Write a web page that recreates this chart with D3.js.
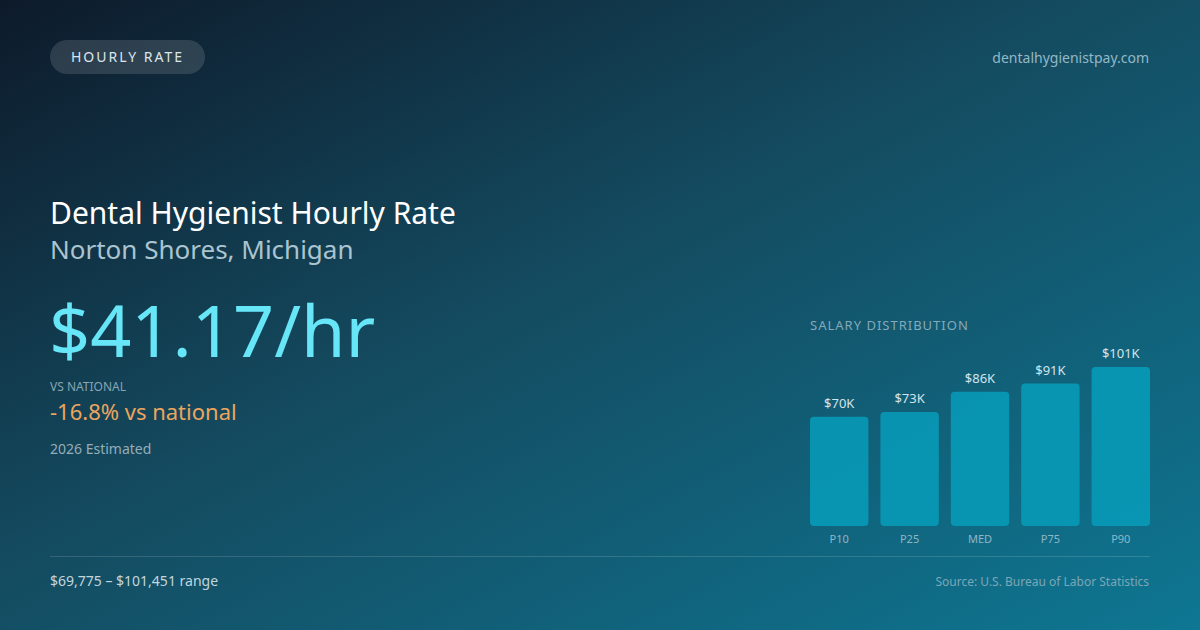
<!DOCTYPE html>
<html>
<head>
<meta charset="utf-8">
<script src="https://cdn.jsdelivr.net/npm/d3@7"></script>
<style>
  html, body { margin: 0; padding: 0; background: #0f1c2d; }
  svg { display: block; font-family: "Noto Sans", "Open Sans", sans-serif; }
</style>
</head>
<body>
<div id="chart"></div>
<script>
// chart data
const percentiles = ["P10", "P25", "MED", "P75", "P90"];
const salaries = [69775, 72800, 85634, 90900, 101451];
const salaryLabels = ["$70K", "$73K", "$86K", "$91K", "$101K"];

const hourlyRate = "$41.17/hr";
const vsNational = "-16.8% vs national";
const rangeText = "$69,775 – $101,451 range";

const width = 1200,
      height = 630;

const svg = d3.select("#chart").append("svg")
    .attr("width", width)
    .attr("height", height)
    .attr("viewBox", `0 0 ${width} ${height}`);

// background gradient
const defs = svg.append("defs");
const bg = defs.append("linearGradient")
    .attr("id", "bg")
    .attr("x1", "0%").attr("y1", "0%")
    .attr("x2", "100%").attr("y2", "100%");
bg.append("stop").attr("offset", "0%").attr("stop-color", "#0d1a2a");
bg.append("stop").attr("offset", "45%").attr("stop-color", "#144b60");
bg.append("stop").attr("offset", "100%").attr("stop-color", "#0e7793");

svg.append("rect")
    .attr("width", width)
    .attr("height", height)
    .attr("fill", "url(#bg)");

// top pill
svg.append("rect")
    .attr("x", 50).attr("y", 40)
    .attr("width", 155).attr("height", 34)
    .attr("rx", 17)
    .attr("fill", "rgba(255,255,255,0.13)");

svg.append("text")
    .attr("x", 127.5).attr("y", 62)
    .attr("text-anchor", "middle")
    .attr("font-size", 14)
    .attr("letter-spacing", 2)
    .attr("fill", "#dbe6ec")
    .text("HOURLY RATE");

svg.append("text")
    .attr("x", 1149).attr("y", 63)
    .attr("text-anchor", "end")
    .attr("font-size", 14)
    .attr("fill", "#93b8c6")
    .text("dentalhygienistpay.com");

// headline block
svg.append("text")
    .attr("x", 50).attr("y", 224)
    .attr("font-size", 30)
    .attr("fill", "#ffffff")
    .text("Dental Hygienist Hourly Rate");

svg.append("text")
    .attr("x", 50).attr("y", 259)
    .attr("font-size", 26)
    .attr("fill", "#aac4d0")
    .text("Norton Shores, Michigan");

svg.append("text")
    .attr("x", 49).attr("y", 357)
    .attr("font-size", 72)
    .attr("fill", "#67e6f8")
    .text(hourlyRate);

svg.append("text")
    .attr("x", 50).attr("y", 391)
    .attr("font-size", 12)
    .attr("fill", "#86a5b5")
    .text("VS NATIONAL");

svg.append("text")
    .attr("x", 50).attr("y", 420)
    .attr("font-size", 22)
    .attr("fill", "#eba55e")
    .text(vsNational);

svg.append("text")
    .attr("x", 50).attr("y", 454)
    .attr("font-size", 14)
    .attr("fill", "#93adba")
    .text("2026 Estimated");

// salary distribution bars
const chartLeft = 810, chartRight = 1150,
      barBottom = 526, maxBarHeight = 159;

svg.append("text")
    .attr("x", chartLeft).attr("y", 330)
    .attr("font-size", 13)
    .attr("letter-spacing", 1)
    .attr("fill", "#84a9ba")
    .text("SALARY DISTRIBUTION");

const x = d3.scaleBand()
    .domain(percentiles)
    .range([chartLeft, chartRight])
    .paddingInner(0.17)
    .paddingOuter(0);

const y = d3.scaleLinear()
    .domain([0, d3.max(salaries)])
    .range([barBottom, barBottom - maxBarHeight]);

const bars = svg.append("g");

bars.selectAll("rect")
    .data(salaries)
    .join("rect")
    .attr("x", (d, i) => x(percentiles[i]))
    .attr("y", d => y(d))
    .attr("width", x.bandwidth())
    .attr("height", d => barBottom - y(d))
    .attr("rx", 4)
    .attr("fill", "#0899b6")
    .attr("fill-opacity", 0.92);

bars.selectAll("text.val")
    .data(salaries)
    .join("text")
    .attr("class", "val")
    .attr("x", (d, i) => x(percentiles[i]) + x.bandwidth() / 2)
    .attr("y", d => y(d) - 9)
    .attr("text-anchor", "middle")
    .attr("font-size", 13)
    .attr("fill", "#d3e4ec")
    .text((d, i) => salaryLabels[i]);

bars.selectAll("text.cat")
    .data(percentiles)
    .join("text")
    .attr("class", "cat")
    .attr("x", d => x(d) + x.bandwidth() / 2)
    .attr("y", 543)
    .attr("text-anchor", "middle")
    .attr("font-size", 11)
    .attr("fill", "#8fb6c6")
    .text(d => d);

// footer
svg.append("line")
    .attr("x1", 50).attr("x2", 1150)
    .attr("y1", 556.5).attr("y2", 556.5)
    .attr("stroke", "rgba(255,255,255,0.14)")
    .attr("stroke-width", 1);

svg.append("text")
    .attr("x", 50).attr("y", 586)
    .attr("font-size", 14)
    .attr("fill", "#c2d6de")
    .text(rangeText);

svg.append("text")
    .attr("x", 1149).attr("y", 586)
    .attr("text-anchor", "end")
    .attr("font-size", 12)
    .attr("fill", "#7da6b6")
    .text("Source: U.S. Bureau of Labor Statistics");
</script>
</body>
</html>
